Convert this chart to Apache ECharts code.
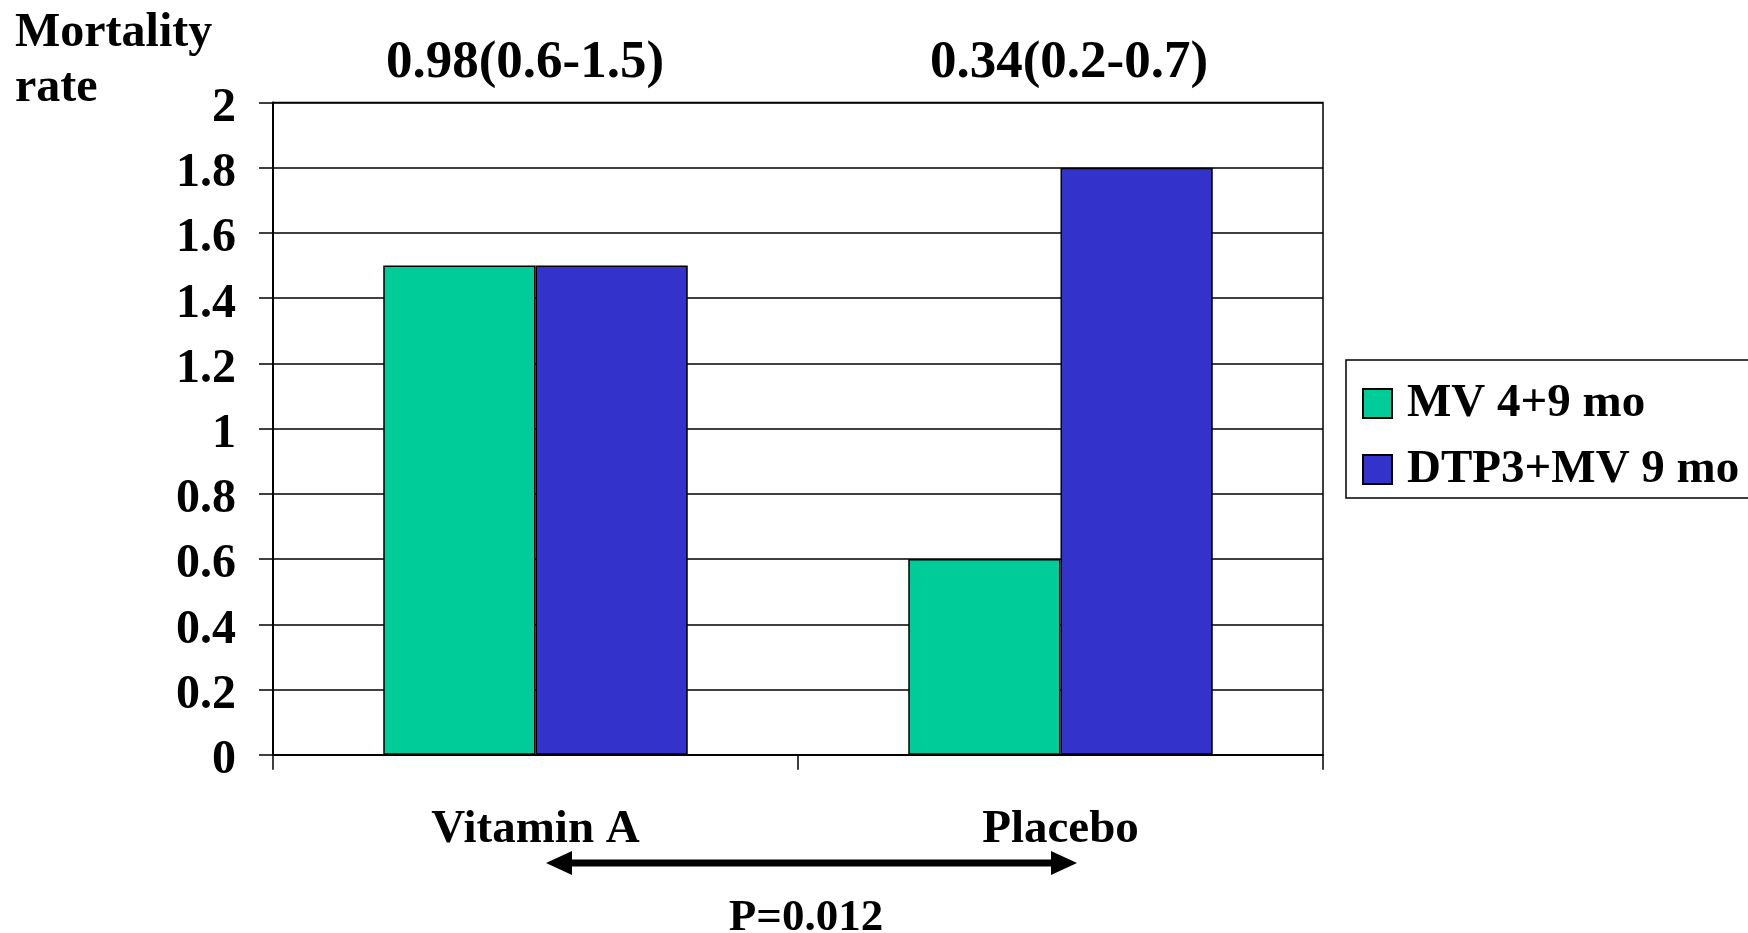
<!DOCTYPE html>
<html>
<head>
<meta charset="utf-8">
<script src="https://cdn.jsdelivr.net/npm/echarts@6/dist/echarts.min.js"></script>
<style>
html,body{margin:0;padding:0;background:#fff;}
#chart{width:1748px;height:933px;}
</style>
</head>
<body>
<div id="chart"></div>
<script>
const categories = ['Vitamin A', 'Placebo'];
const seriesNames = ['MV 4+9 mo', 'DTP3+MV 9 mo'];
const mv49 = [1.5, 0.6];
const dtp3mv9 = [1.5, 1.8];
const ratioLabels = ['0.98(0.6-1.5)', '0.34(0.2-0.7)'];
const yAxisTitle = ['Mortality', 'rate'];
const pValueLabel = 'P=0.012';
const yTicks = { min: 0, max: 2, interval: 0.2 };

const FONT = "'Liberation Serif', 'Times New Roman', serif";
const chart = echarts.init(document.getElementById('chart'), null, { renderer: 'canvas' });

const textBase = { fontFamily: FONT, fontWeight: 'bold', fill: '#000' };

chart.setOption({
  animation: false,
  backgroundColor: '#fff',
  grid: {
    left: 273, right: 425, top: 102.5, bottom: 178.3,
    show: true, borderColor: '#000', borderWidth: 1.5, backgroundColor: 'transparent'
  },
  legend: {
    orient: 'vertical',
    left: 1346, top: 360,
    borderColor: '#000', borderWidth: 1.5,
    padding: [20, 40, 5, 16],
    itemWidth: 29, itemHeight: 29, itemGap: 19,
    icon: 'rect',
    textStyle: { fontFamily: FONT, fontWeight: 'bold', fontSize: 47, lineHeight: 47, color: '#000', padding: [0, 0, 0, 10] },
    data: seriesNames
  },
  xAxis: {
    type: 'category',
    data: categories,
    boundaryGap: true,
    axisLine: { lineStyle: { color: '#000', width: 2 } },
    axisTick: { show: true, length: 15, lineStyle: { color: '#000', width: 1.5 } },
    axisLabel: { fontFamily: FONT, fontWeight: 'bold', fontSize: 47, color: '#000', margin: 75, verticalAlign: 'middle' }
  },
  yAxis: {
    type: 'value',
    min: yTicks.min, max: yTicks.max, interval: yTicks.interval,
    axisLine: { show: true, lineStyle: { color: '#000', width: 2 } },
    axisTick: { show: true, length: 14, lineStyle: { color: '#000', width: 1.5 } },
    axisLabel: {
      margin: 37, verticalAlign: 'middle',
      formatter: '{v|{value}}',
      rich: { v: { fontFamily: FONT, fontWeight: 'bold', fontSize: 48, color: '#000', padding: [12, 0, 0, 0] } }
    },
    splitLine: { show: true, lineStyle: { color: '#000', width: 1.5 } }
  },
  series: [
    {
      name: seriesNames[0], type: 'bar', data: mv49,
      barGap: '0%', barCategoryGap: '42%',
      itemStyle: { color: '#00CC99', borderColor: '#000', borderWidth: 1.5 }
    },
    {
      name: seriesNames[1], type: 'bar', data: dtp3mv9,
      barGap: '0%', barCategoryGap: '42%',
      itemStyle: { color: '#3333CC', borderColor: '#000', borderWidth: 1.5 }
    }
  ],
  graphic: [
    { type: 'text', position: [15, 34], style: Object.assign({}, textBase, { text: yAxisTitle[0], fontSize: 48, verticalAlign: 'middle' }), z: 10 },
    { type: 'text', position: [15, 89], style: Object.assign({}, textBase, { text: yAxisTitle[1], fontSize: 48, verticalAlign: 'middle' }), z: 10 },
    { type: 'text', position: [525, 63], style: Object.assign({}, textBase, { text: ratioLabels[0], fontSize: 53, align: 'center', verticalAlign: 'middle' }), z: 10 },
    { type: 'text', position: [1069, 63], style: Object.assign({}, textBase, { text: ratioLabels[1], fontSize: 53, align: 'center', verticalAlign: 'middle' }), z: 10 },
    { type: 'text', position: [806, 918], style: Object.assign({}, textBase, { text: pValueLabel, fontSize: 45, align: 'center', verticalAlign: 'middle' }), z: 10 },
    { type: 'line', shape: { x1: 570, y1: 863, x2: 1053, y2: 863 }, style: { stroke: '#000', lineWidth: 7 }, z: 10 },
    { type: 'polygon', shape: { points: [[546, 863], [572, 851], [572, 875]] }, style: { fill: '#000' }, z: 10 },
    { type: 'polygon', shape: { points: [[1077, 863], [1051, 851], [1051, 875]] }, style: { fill: '#000' }, z: 10 }
  ]
});
</script>
</body>
</html>
